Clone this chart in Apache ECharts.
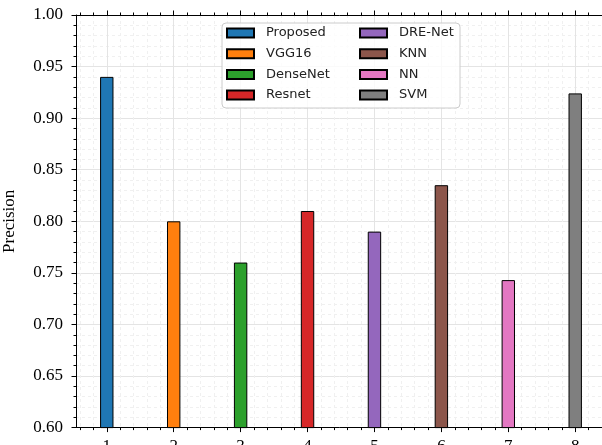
<!DOCTYPE html>
<html>
<head>
<meta charset="utf-8">
<script src="https://cdn.jsdelivr.net/npm/echarts@6/dist/echarts.min.js"></script>
<style>
  html, body { margin: 0; padding: 0; background: #fff; }
  #chart { width: 602px; height: 445px; }
</style>
</head>
<body>
<div id="chart"></div>
<script>
// data
var names = ['Proposed', 'VGG16', 'DenseNet', 'Resnet', 'DRE-Net', 'KNN', 'NN', 'SVM'];
var xPos = [1, 2, 3, 4, 5, 6, 7, 8];
var values = [0.94, 0.80, 0.76, 0.81, 0.79, 0.835, 0.743, 0.924];
var colors = ['#1f77b4', '#ff7f0e', '#2ca02c', '#d62728', '#9467bd', '#8c564b', '#e377c2', '#7f7f7f'];
var xTicks = [1, 2, 3, 4, 5, 6, 7, 8];

// minor x ticks every 0.2
var xMinor = [];
for (var k = 3; k <= 42; k++) {
    if (k % 5 !== 0) xMinor.push(+(k * 0.2).toFixed(1));
}

var serif = 'Liberation Serif';

var series = names.map(function (n, i) {
    return {
        name: n,
        type: 'bar',
        data: [[xPos[i], values[i]]],
        barWidth: 13.4,
        barGap: '-100%',
        itemStyle: { color: colors[i], borderColor: '#000', borderWidth: 1 }
    };
});

function xAxisDef(pos, minor) {
    return {
        type: 'value',
        position: pos,
        min: 0.54,
        max: 8.46,
        axisLine: { show: !minor, onZero: false, lineStyle: { color: '#000', width: 1 } },
        axisTick: {
            show: true, inside: false, length: minor ? 2.5 : 4.5,
            customValues: minor ? xMinor : xTicks,
            lineStyle: { color: '#000', width: 1 }
        },
        axisLabel: {
            show: pos === 'bottom' && !minor,
            customValues: minor ? xMinor : xTicks,
            margin: 10,
            fontFamily: serif, fontSize: 17, color: '#000'
        },
        splitLine: {
            show: pos === 'bottom',
            lineStyle: minor ? { color: '#f0f0f0', type: [3, 3], width: 1 } : { color: '#e4e4e4', width: 1 }
        }
    };
}

var myChart = echarts.init(document.getElementById('chart'));
var option = {
    animation: false,
    backgroundColor: '#fff',
    textStyle: { fontFamily: serif },
    grid: { left: 76, top: 15, right: -4, bottom: 17.4, containLabel: false, outerBoundsMode: 'none' },
    xAxis: [
        xAxisDef('bottom', false),
        xAxisDef('bottom', true),
        xAxisDef('top', false),
        xAxisDef('top', true)
    ],
    yAxis: {
        type: 'value',
        min: 0.6,
        max: 1.0,
        interval: 0.05,
        name: 'Precision',
        nameLocation: 'middle',
        nameGap: 58,
        nameTextStyle: { fontFamily: serif, fontSize: 17, color: '#000' },
        axisLine: { show: true, lineStyle: { color: '#000', width: 1 } },
        axisTick: { show: true, inside: false, length: 4.5, lineStyle: { color: '#000' } },
        minorTick: { show: true, splitNumber: 5, length: 2.5, lineStyle: { color: '#000' } },
        axisLabel: {
            margin: 13,
            fontFamily: serif, fontSize: 17, color: '#000',
            formatter: function (v) { return v.toFixed(2); }
        },
        splitLine: { show: true, lineStyle: { color: '#e4e4e4', width: 1 } },
        minorSplitLine: { show: true, lineStyle: { color: '#f0f0f0', type: [3, 3], width: 1 } }
    },
    legend: [
        {
            data: names.slice(0, 4),
            left: 226, top: 26
        },
        {
            data: names.slice(4),
            left: 359, top: 26
        }
    ].map(function (l) {
        l.orient = 'vertical';
        l.padding = 0;
        l.itemWidth = 27;
        l.itemHeight = 9;
        l.itemGap = 6.7;
        l.icon = 'rect';
        l.z = 10;
        l.textStyle = { fontFamily: 'DejaVu Sans', fontSize: 13, lineHeight: 14, color: '#222', padding: [0, 0, 0, 7] };
        return l;
    }),
    graphic: [{
        type: 'rect',
        z: 5,
        shape: { x: 222, y: 23, width: 238, height: 85, r: 4 },
        style: { fill: 'rgba(255,255,255,0.8)', stroke: '#cccccc', lineWidth: 1 }
    }],
    series: series
};
myChart.setOption(option);
</script>
</body>
</html>
